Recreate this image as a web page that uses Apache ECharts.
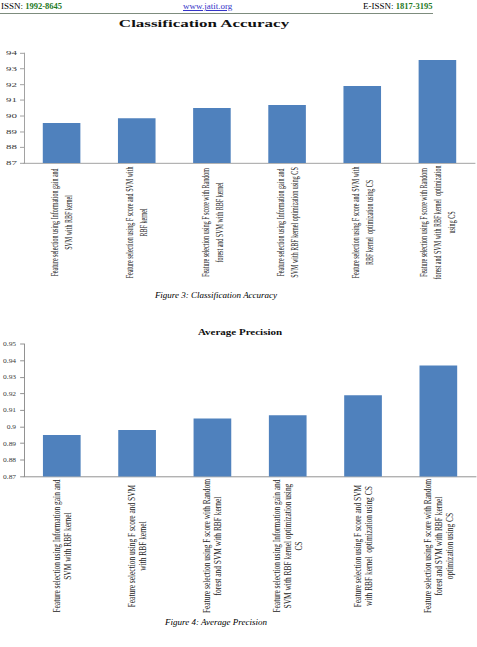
<!DOCTYPE html>
<html>
<head>
<meta charset="utf-8">
<title>Classification Accuracy / Average Precision</title>
<script src="https://cdn.jsdelivr.net/npm/echarts@6/dist/echarts.min.js"></script>
<style>
    body { margin: 0; background: #fff; width: 477px; height: 647px; position: relative; overflow: hidden;
           font-family: 'Liberation Serif', 'Times New Roman', serif; color: #000; }
    .abs { position: absolute; }
    .hdr { top: 1px; font-size: 9px; line-height: 11px; white-space: nowrap; }
    .hdr b { color: #1f7a1f; font-size: 8.5px; }
    .rule { left: 0; top: 13px; width: 433px; height: 1px; background: #7d8c7d; }
    .cap { left: 0; width: 432px; text-align: center; font-size: 9px; font-style: italic; line-height: 11px; }
    .chart { left: 0; width: 477px; transform-origin: 0 0; }
</style>
</head>
<body>
<div class="abs hdr" style="left:1px;">ISSN: <b>1992-8645</b></div>
<div class="abs hdr" style="left:183px;color:#3535c8;text-decoration:underline;">www.jatit.org</div>
<div class="abs hdr" style="left:363px;">E-ISSN: <b>1817-3195</b></div>
<div class="abs rule"></div>

<div id="acc" class="abs chart" style="top:14px;height:498px;transform:scaleY(0.55);"></div>
<div class="abs cap" style="top:290px;">Figure 3: Classification Accuracy</div>

<div id="prec" class="abs chart" style="top:318px;height:372px;transform:scaleY(0.8);"></div>
<div class="abs cap" style="top:617px;">Figure 4: Average Precision</div>

<script>
    // figure 3 data
    var accCategories = [
        'Feature selection using Information gain and\nSVM with RBF kernel',
        'Feature selection using F score and SVM with\nRBF kernel',
        'Feature selection using F score with Random\nforest and SVM with RBF kernel',
        'Feature selection using Information gain and\nSVM with RBF kernel optimization using CS',
        'Feature selection using F score and SVM with\nRBF kernel  optimization using CS',
        'Feature selection using F score with Random\nforest and SVM with RBF kernel  optimization\nusing CS'
    ];
    var accValues = [89.55, 89.85, 90.5, 90.7, 91.9, 93.55];
    var accMin = 87, accMax = 94, accStep = 1;

    // figure 4 data
    var precCategories = [
        'Feature selection using Information gain and\nSVM with RBF kernel',
        'Feature selection using F score and SVM\nwith RBF kernel',
        'Feature selection using F score with Random\nforest and SVM with RBF kernel',
        'Feature selection using Information gain and\nSVM with RBF kernel optimization using\nCS',
        'Feature selection using F score and SVM\nwith RBF kernel  optimization using CS',
        'Feature selection using F score with Random\nforest and SVM with RBF kernel\noptimization using CS'
    ];
    var precValues = [0.895, 0.898, 0.905, 0.907, 0.919, 0.937];
    var precMin = 0.87, precMax = 0.95, precStep = 0.01;

    var barColor = '#4f81bd';
    var axisColor = '#868686';
    var serif = 'Liberation Serif';

    var accChart = echarts.init(document.getElementById('acc'), null, {renderer: 'svg'});
    accChart.setOption({
        animation: false,
        title: {
            text: 'Classification Accuracy',
            left: 204,
            top: 9,
            padding: 0,
            textAlign: 'center',
            textStyle: {fontFamily: serif, fontSize: 17, fontWeight: 'bold', color: '#111'}
        },
        grid: {left: 24, right: 2, top: 71, bottom: 227},
        xAxis: {
            type: 'category',
            data: accCategories,
            axisLine: {lineStyle: {color: axisColor}},
            axisTick: {length: 5, lineStyle: {color: axisColor}},
            axisLabel: {
                interval: 0,
                rotate: 90,
                align: 'center',
                verticalAlign: 'middle',
                margin: 108,
                fontFamily: serif,
                fontSize: 11,
                lineHeight: 14,
                color: '#222'
            }
        },
        yAxis: {
            type: 'value',
            min: accMin,
            max: accMax,
            interval: accStep,
            splitLine: {show: false},
            axisLine: {show: true, lineStyle: {color: axisColor}},
            axisTick: {show: true, length: 4, lineStyle: {color: axisColor}},
            axisLabel: {margin: 7, fontFamily: serif, fontSize: 11, color: '#404040'}
        },
        series: [{
            type: 'bar',
            data: accValues,
            barWidth: '50%',
            itemStyle: {color: barColor}
        }]
    });

    var precChart = echarts.init(document.getElementById('prec'), null, {renderer: 'svg'});
    precChart.setOption({
        animation: false,
        title: {
            text: 'Average Precision',
            left: 240,
            top: 12,
            padding: 0,
            textAlign: 'center',
            textStyle: {fontFamily: serif, fontSize: 11, fontWeight: 'bold', color: '#111'}
        },
        grid: {left: 21, right: 1, top: 32.5, bottom: 173},
        xAxis: {
            type: 'category',
            data: precCategories,
            axisLine: {lineStyle: {color: axisColor}},
            axisTick: {length: 4, lineStyle: {color: axisColor}},
            axisLabel: {
                interval: 0,
                rotate: 90,
                align: 'center',
                verticalAlign: 'middle',
                margin: 87,
                fontFamily: serif,
                fontSize: 9.3,
                lineHeight: 11,
                color: '#222'
            }
        },
        yAxis: {
            type: 'value',
            min: precMin,
            max: precMax,
            interval: precStep,
            splitLine: {show: false},
            axisLine: {show: true, lineStyle: {color: axisColor}},
            axisTick: {show: true, length: 4, lineStyle: {color: axisColor}},
            axisLabel: {margin: 8, fontFamily: serif, fontSize: 7.5, color: '#404040'}
        },
        series: [{
            type: 'bar',
            data: precValues,
            barWidth: '50%',
            itemStyle: {color: barColor}
        }]
    });
</script>
</body>
</html>
